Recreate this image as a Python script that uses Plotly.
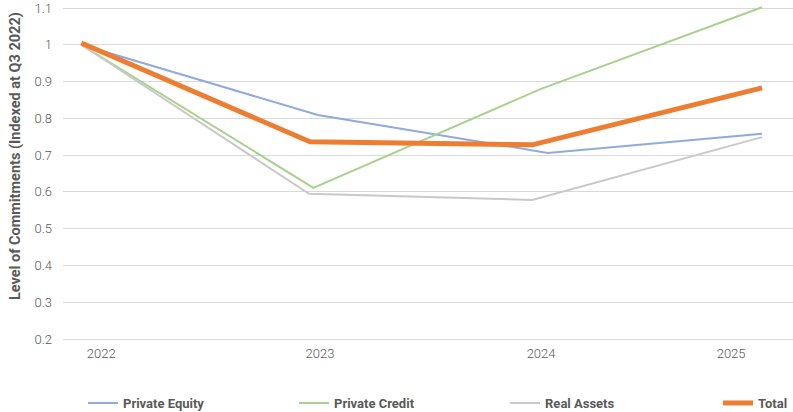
import plotly.graph_objects as go

# ---- data (x positions in fractional years) ----
pe_x = [2021.92, 2022.99, 2024.03, 2025.00]
pe_y = [1.00, 0.809, 0.706, 0.758]

pc_x = [2021.92, 2022.97, 2024.00, 2025.00]
pc_y = [1.00, 0.611, 0.880, 1.102]

ra_x = [2021.92, 2022.95, 2023.96, 2025.00]
ra_y = [1.00, 0.595, 0.578, 0.749]

tot_x = [2021.92, 2022.955, 2023.96, 2025.00]
tot_y = [1.005, 0.736, 0.728, 0.883]

tick_pos = [2022.01, 2023.0, 2024.0, 2024.86]
tick_text = ["2022", "2023", "2024", "2025"]
y_ticks = [0.2, 0.3, 0.4, 0.5, 0.6, 0.7, 0.8, 0.9, 1.0, 1.1]
y_tick_text = ["0.2", "0.3", "0.4", "0.5", "0.6", "0.7", "0.8", "0.9", "1", "1.1"]

FONT = "Roboto"
GREY = "#595959"

fig = go.Figure()
fig.add_trace(go.Scatter(x=pe_x, y=pe_y, mode="lines", name="Private Equity",
                         line=dict(color="#8FAADC", width=2), legend="legend"))
fig.add_trace(go.Scatter(x=pc_x, y=pc_y, mode="lines", name="Private Credit",
                         line=dict(color="#A9D18E", width=2), legend="legend"))
fig.add_trace(go.Scatter(x=ra_x, y=ra_y, mode="lines", name="Real Assets",
                         line=dict(color="#C9C9C9", width=2), legend="legend"))
fig.add_trace(go.Scatter(x=tot_x, y=tot_y, mode="lines", name="Total",
                         line=dict(color="#ED7D31", width=5), legend="legend2"))

legend_font = dict(family=FONT, size=13, color=GREY, weight="bold")
tick_font = dict(family=FONT, size=13, color=GREY, weight=300)

fig.update_layout(
    width=793, height=412,
    margin=dict(l=63, r=0, t=3, b=68),
    paper_bgcolor="white", plot_bgcolor="white",
    font=dict(family=FONT, color=GREY, size=13),
    showlegend=True,
    legend=dict(orientation="h", xref="container", yref="container",
                x=0.1047, xanchor="left", y=0.0218, yanchor="middle",
                font=legend_font, entrywidth=166, entrywidthmode="pixels",
                traceorder="normal", bgcolor="rgba(0,0,0,0)"),
    legend2=dict(orientation="h", xref="container", yref="container",
                 x=0.9054, xanchor="left", y=0.0218, yanchor="middle",
                 font=legend_font, bgcolor="rgba(0,0,0,0)"),
    xaxis=dict(range=[2021.837, 2025.14], tickvals=tick_pos, ticktext=tick_text,
               showgrid=False, zeroline=False, showline=False, ticks="",
               tickfont=tick_font),
    yaxis=dict(range=[0.1864, 1.1136], tickvals=y_ticks, ticktext=y_tick_text,
               showgrid=True, gridcolor="#D9D9D9", gridwidth=1,
               zeroline=False, showline=False, ticks="", ticklabelstandoff=10,
               tickfont=tick_font),
    hovermode=False,
    annotations=[dict(text="<b>Level of Commitments (Indexed at Q3 2022)</b>",
                      xref="paper", yref="paper", x=0, y=0.551,
                      xanchor="center", yanchor="middle", xshift=-48,
                      textangle=-90, showarrow=False,
                      font=dict(family=FONT, size=14.5, color=GREY))],
)

fig.write_html("out.html")
